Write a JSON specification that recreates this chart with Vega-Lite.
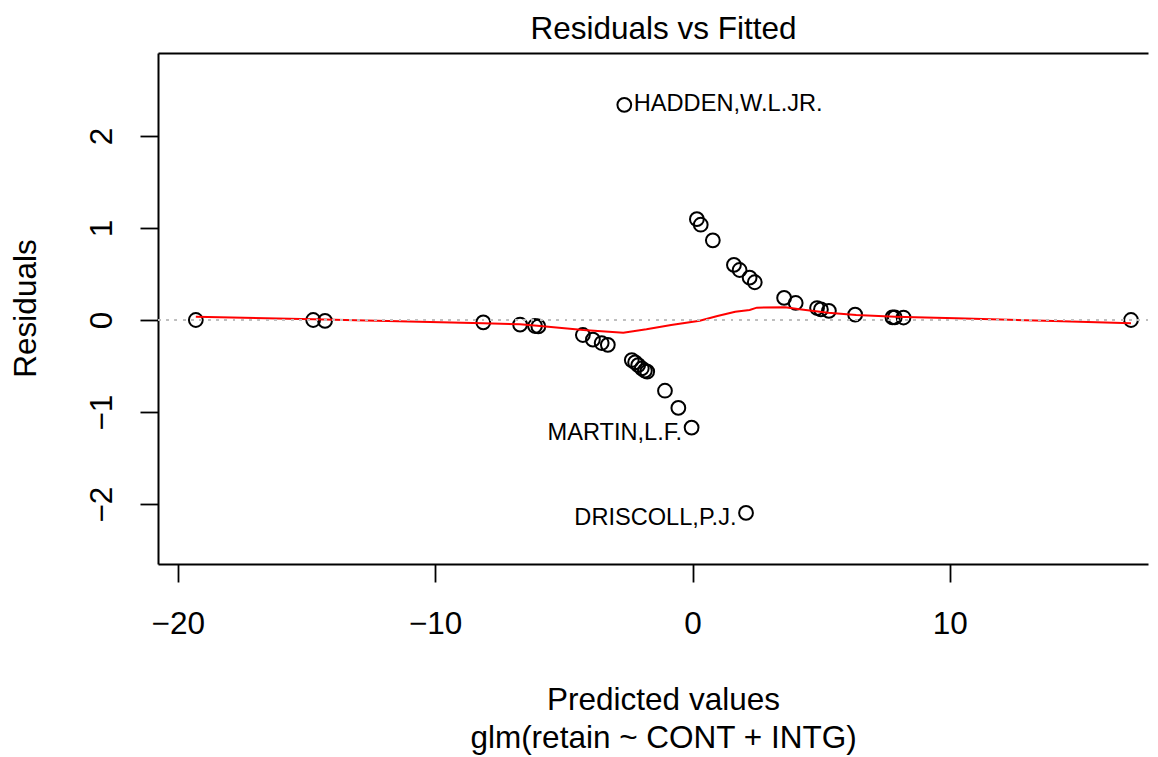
{
  "$schema": "https://vega.github.io/schema/vega-lite/v6.json",
  "autosize": {"type": "none"},
  "padding": {"left": 158, "top": 53, "right": 10, "bottom": 193},
  "width": 990,
  "height": 511,
  "background": "white",
  "config": {
    "view": {"stroke": null},
    "font": "Liberation Sans",
    "axisY": {"grid": false, "domain": true, "domainColor": "black", "domainWidth": 2,
      "ticks": true, "tickSize": 18, "tickWidth": 1.8, "tickColor": "black",
      "labelFont": "Liberation Sans", "labelFontSize": 31.5, "labelColor": "black", "labelAngle": -90, "labelAlign": "center", "labelBaseline": "alphabetic", "labelPadding": 28.3, "labelFlush": false, "labelOverlap": false,
      "titleFont": "Liberation Sans", "titleFontSize": 31.5, "titleFontWeight": "normal", "titleColor": "black",
      "titleAngle": -90, "titleAlign": "center", "titleBaseline": "alphabetic", "titleX": -123, "titleY": 255}
  },
  "datasets": {
    "pts": [
      {"fitted": -19.30, "resid": 0.0, "name": ""},
      {"fitted": -14.74, "resid": 0.0, "name": ""},
      {"fitted": -14.28, "resid": -0.01, "name": ""},
      {"fitted": -8.13, "resid": -0.025, "name": ""},
      {"fitted": -6.70, "resid": -0.05, "name": ""},
      {"fitted": -6.12, "resid": -0.065, "name": ""},
      {"fitted": -5.99, "resid": -0.07, "name": ""},
      {"fitted": -4.26, "resid": -0.163, "name": ""},
      {"fitted": -3.87, "resid": -0.213, "name": ""},
      {"fitted": -3.53, "resid": -0.25, "name": ""},
      {"fitted": -3.29, "resid": -0.27, "name": ""},
      {"fitted": -2.36, "resid": -0.435, "name": ""},
      {"fitted": -2.23, "resid": -0.46, "name": ""},
      {"fitted": -2.11, "resid": -0.49, "name": ""},
      {"fitted": -1.97, "resid": -0.525, "name": ""},
      {"fitted": -1.85, "resid": -0.55, "name": ""},
      {"fitted": -1.76, "resid": -0.56, "name": ""},
      {"fitted": -1.07, "resid": -0.768, "name": ""},
      {"fitted": -0.55, "resid": -0.955, "name": ""},
      {"fitted": -0.035, "resid": -1.168, "name": "MARTIN,L.F."},
      {"fitted": 2.08, "resid": -2.095, "name": "DRISCOLL,P.J."},
      {"fitted": -2.65, "resid": 2.337, "name": "HADDEN,W.L.JR."},
      {"fitted": 0.17, "resid": 1.095, "name": ""},
      {"fitted": 0.32, "resid": 1.035, "name": ""},
      {"fitted": 0.79, "resid": 0.865, "name": ""},
      {"fitted": 1.61, "resid": 0.598, "name": ""},
      {"fitted": 1.83, "resid": 0.543, "name": ""},
      {"fitted": 2.22, "resid": 0.46, "name": ""},
      {"fitted": 2.42, "resid": 0.41, "name": ""},
      {"fitted": 3.56, "resid": 0.24, "name": ""},
      {"fitted": 4.01, "resid": 0.185, "name": ""},
      {"fitted": 4.84, "resid": 0.13, "name": ""},
      {"fitted": 4.99, "resid": 0.115, "name": ""},
      {"fitted": 5.30, "resid": 0.10, "name": ""},
      {"fitted": 6.32, "resid": 0.058, "name": ""},
      {"fitted": 7.77, "resid": 0.028, "name": ""},
      {"fitted": 7.86, "resid": 0.028, "name": ""},
      {"fitted": 8.20, "resid": 0.027, "name": ""},
      {"fitted": 17.04, "resid": 0.0, "name": ""}
    ],
    "smooth": [
      {"fitted": -19.30, "smooth": 0.036},
      {"fitted": -14.74, "smooth": 0.007},
      {"fitted": -8.13, "smooth": -0.036},
      {"fitted": -6.70, "smooth": -0.047},
      {"fitted": -5.92, "smooth": -0.065},
      {"fitted": -4.24, "smooth": -0.109},
      {"fitted": -2.69, "smooth": -0.138},
      {"fitted": -1.79, "smooth": -0.101},
      {"fitted": -0.83, "smooth": -0.054},
      {"fitted": 0.28, "smooth": -0.007},
      {"fitted": 0.97, "smooth": 0.043},
      {"fitted": 1.66, "smooth": 0.09},
      {"fitted": 2.22, "smooth": 0.109},
      {"fitted": 2.50, "smooth": 0.134},
      {"fitted": 3.60, "smooth": 0.138},
      {"fitted": 4.16, "smooth": 0.116},
      {"fitted": 5.27, "smooth": 0.08},
      {"fitted": 6.36, "smooth": 0.054},
      {"fitted": 7.88, "smooth": 0.036},
      {"fitted": 10.24, "smooth": 0.018},
      {"fitted": 13.69, "smooth": -0.007},
      {"fitted": 17.04, "smooth": -0.036}
    ]
  },
  "resolve": {"axis": {"x": "independent"}},
  "layer": [
    {
      "data": {"name": "pts"},
      "mark": {"type": "point", "shape": "circle", "filled": false, "stroke": "black", "strokeWidth": 2, "size": 190, "opacity": 1},
      "encoding": {
        "x": {"field": "fitted", "type": "quantitative",
          "scale": {"domain": [-20.77, 17.70], "nice": false, "zero": false},
          "axis": {"orient": "bottom", "values": [-20, -10, 0, 10], "grid": false, "domain": true, "domainColor": "black", "domainWidth": 2,
            "ticks": true, "tickSize": 18, "tickWidth": 1.8, "tickColor": "black",
            "labelFont": "Liberation Sans", "labelFontSize": 31.5, "labelColor": "black", "labelPadding": 26.5, "labelBaseline": "top", "labelFlush": false, "labelOverlap": false,
            "title": ["Predicted values", "glm(retain ~ CONT + INTG)"], "titleFont": "Liberation Sans", "titleFontSize": 31.5, "titleFontWeight": "normal", "titleColor": "black",
            "titleBaseline": "top", "titleAlign": "center", "titleAnchor": "middle", "titleLineHeight": 37.8, "titleX": 505, "titleY": 120.4}},
        "y": {"field": "resid", "type": "quantitative",
          "scale": {"domain": [-2.65, 2.90], "nice": false, "zero": false},
          "axis": {"orient": "left", "values": [-2, -1, 0, 1, 2], "title": "Residuals"}}
      }
    },
    {
      "data": {"name": "smooth"},
      "mark": {"type": "line", "color": "#ff0000", "strokeWidth": 2, "interpolate": "linear"},
      "encoding": {
        "x": {"field": "fitted", "type": "quantitative",
          "axis": {"orient": "top", "grid": false, "domain": true, "domainColor": "black", "domainWidth": 2, "ticks": false, "labels": false,
            "title": "Residuals vs Fitted", "titleFont": "Liberation Sans", "titleFontSize": 31.5, "titleFontWeight": "normal", "titleColor": "black",
            "titleBaseline": "alphabetic", "titleAlign": "center", "titleAnchor": "middle", "titleX": 505, "titleY": -15}},
        "y": {"field": "smooth", "type": "quantitative", "axis": {"orient": "left", "values": [-2, -1, 0, 1, 2], "title": "Residuals"}}
      }
    },
    {
      "data": {"name": "pts"},
      "mark": {"type": "rule", "stroke": "#bebebe", "strokeWidth": 1.8, "strokeDash": [2, 6.3]},
      "encoding": {"y": {"datum": 0, "type": "quantitative", "axis": {"orient": "left", "values": [-2, -1, 0, 1, 2], "title": "Residuals"}}}
    },
    {
      "data": {"name": "pts"},
      "transform": [{"filter": "datum.name != '' && datum.resid > 0"}],
      "mark": {"type": "text", "align": "left", "baseline": "middle", "dx": 9.5, "dy": -1, "font": "Liberation Sans", "fontSize": 23.6, "color": "black"},
      "encoding": {
        "x": {"field": "fitted", "type": "quantitative", "axis": null},
        "y": {"field": "resid", "type": "quantitative", "axis": {"orient": "left", "values": [-2, -1, 0, 1, 2], "title": "Residuals"}},
        "text": {"field": "name"}
      }
    },
    {
      "data": {"name": "pts"},
      "transform": [{"filter": "datum.name != '' && datum.resid < 0"}],
      "mark": {"type": "text", "align": "right", "baseline": "middle", "dx": -9.5, "dy": 5.5, "font": "Liberation Sans", "fontSize": 23.6, "color": "black"},
      "encoding": {
        "x": {"field": "fitted", "type": "quantitative", "axis": null},
        "y": {"field": "resid", "type": "quantitative", "axis": {"orient": "left", "values": [-2, -1, 0, 1, 2], "title": "Residuals"}},
        "text": {"field": "name"}
      }
    }
  ]
}
